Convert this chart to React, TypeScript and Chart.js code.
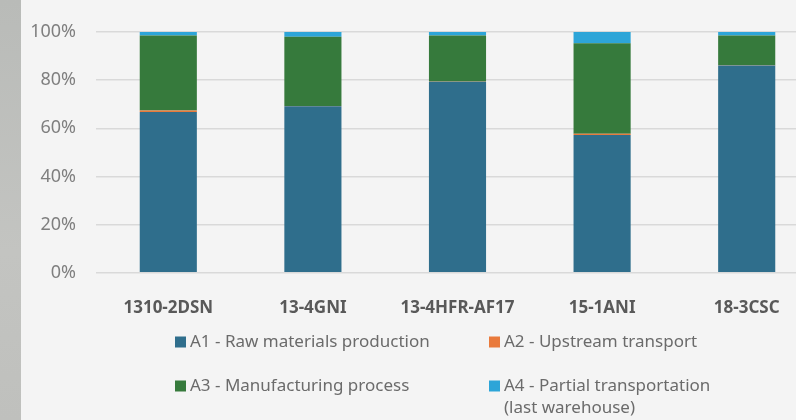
import React, { useEffect, useRef } from "react";
import { Chart, registerables } from "chart.js";
Chart.register(...registerables);

const categories = ["1310-2DSN", "13-4GNI", "13-4HFR-AF17", "15-1ANI", "18-3CSC"];
const a1Values = [66.8, 69.2, 79.3, 57.2, 86.1];
const a2Values = [0.6, 0.1, 0.1, 0.5, 0.1];
const a3Values = [31.1, 28.7, 19.1, 37.6, 12.3];
const a4Values = [1.5, 2.0, 1.5, 4.7, 1.5];
const seriesLabels = [
  "A1 - Raw materials production",
  "A2 - Upstream transport",
  "A3 - Manufacturing process",
  "A4 - Partial transportation\n(last warehouse)",
];
const yTicks = [0, 20, 40, 60, 80, 100];

const COLORS = ["#2F6E8C", "#E97A3C", "#367A3C", "#2DA5D8"];
const FONT = "'Noto Sans', 'Open Sans', sans-serif";

const legendPlugin = {
  id: "gridLegend",
  afterDraw(chart: any) {
    const ctx = chart.ctx;
    const cols = [175, 489];
    const rows = [342, 386];
    const lineH = 22;
    ctx.save();
    ctx.font = `17px ${FONT}`;
    ctx.textBaseline = "middle";
    ctx.textAlign = "left";
    chart.data.datasets.forEach((ds: any, i: number) => {
      const x = cols[i % 2];
      const y = rows[Math.floor(i / 2)];
      ctx.fillStyle = ds.backgroundColor;
      ctx.fillRect(x, y - 5.5, 11, 11);
      ctx.fillStyle = "#6B6B6B";
      String(ds.label)
        .split("\n")
        .forEach((line: string, k: number) => {
          ctx.fillText(line, x + 15, y + k * lineH);
        });
    });
    ctx.restore();
  },
};

export default function App() {
  const ref = useRef<HTMLCanvasElement | null>(null);
  useEffect(() => {
    if (!ref.current) return;
    const seriesValues = [a1Values, a2Values, a3Values, a4Values];
    const chart = new Chart(ref.current, {
      type: "bar",
      data: {
        labels: categories,
        datasets: seriesValues.map((vals, i) => ({
          label: seriesLabels[i],
          data: vals,
          backgroundColor: COLORS[i],
          borderWidth: 0,
          categoryPercentage: 1,
          barPercentage: 0.395,
        })),
      },
      options: {
        responsive: false,
        animation: false,
        layout: { padding: { top: 32, right: 11, left: 0, bottom: 0 } },
        plugins: {
          legend: { display: false },
          tooltip: { enabled: false },
          title: { display: false },
        },
        scales: {
          x: {
            stacked: true,
            grid: { display: false },
            border: { display: false },
            ticks: {
              color: "#595959",
              padding: 17,
              font: { family: FONT, size: 17, weight: "bold" },
            },
            afterFit(scale: any) {
              scale.height = 147.3;
            },
          },
          y: {
            stacked: true,
            min: 0,
            max: 100,
            afterBuildTicks(scale: any) {
              scale.ticks = yTicks.map((v) => ({ value: v }));
            },
            grid: { color: "#D9D9D9", lineWidth: 1.5, drawTicks: false },
            border: { display: false },
            ticks: {
              color: "#7F7F7F",
              padding: 20,
              font: { family: FONT, size: 18 },
              callback: (v: any) => `${v}%`,
            },
            afterFit(scale: any) {
              scale.width = 96;
            },
          },
        },
      },
      plugins: [legendPlugin],
    });
    return () => chart.destroy();
  }, []);

  return (
    <div
      style={{
        position: "fixed",
        left: 0,
        top: 0,
        width: 796,
        height: 420,
        overflow: "hidden",
        background: "#F4F4F4",
      }}
    >
      <canvas ref={ref} width={830} height={420} style={{ position: "absolute", left: 0, top: 0 }} />
      <div
        style={{
          position: "absolute",
          left: 0,
          top: 0,
          width: 21,
          height: 420,
          background: "linear-gradient(180deg, #B9BBB8 0%, #C3C4C1 60%, #BFC0BD 100%)",
        }}
      />
    </div>
  );
}
